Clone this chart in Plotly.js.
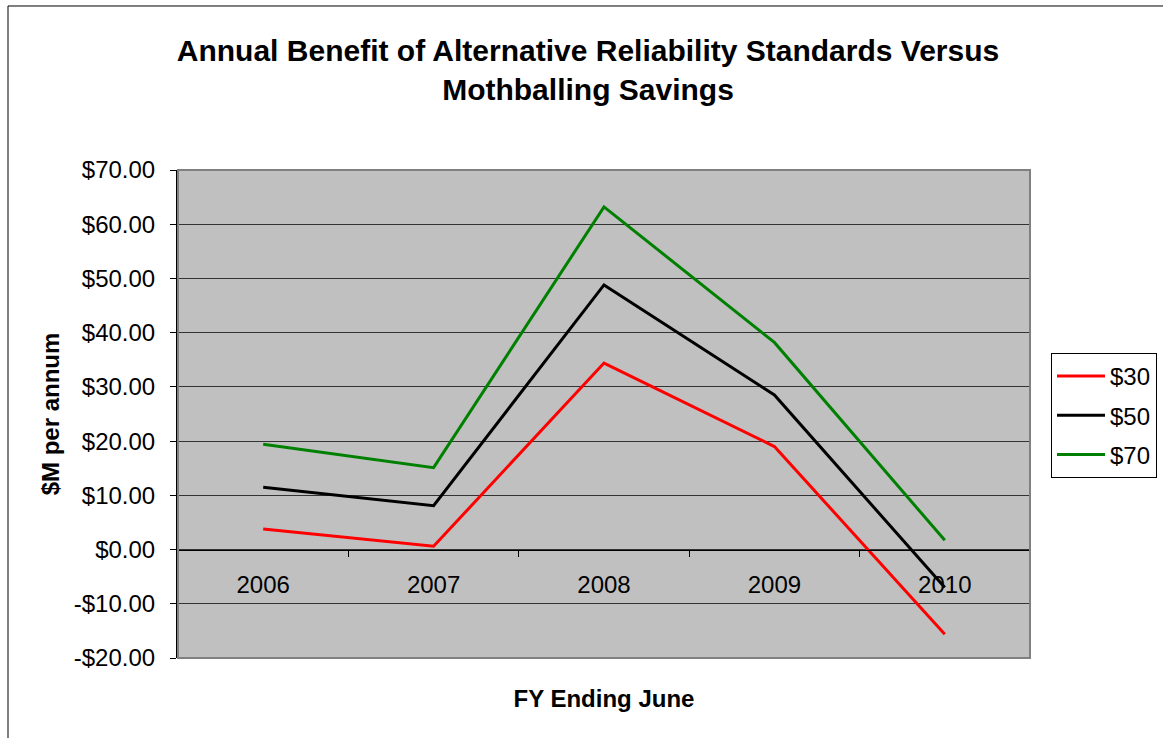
<!DOCTYPE html>
<html>
<head>
<meta charset="utf-8">
<script src="https://cdn.plot.ly/plotly-3.0.1.min.js"></script>
<style>html,body{margin:0;padding:0;background:#fff;}#chart{width:1163px;height:738px;}</style>
</head>
<body>
<div id="chart"></div>
<script>
var years = ['2006', '2007', '2008', '2009', '2010'];
var seriesNames = ['$30', '$50', '$70'];
var values30 = [3.8, 0.6, 34.4, 19.0, -15.6];
var values50 = [11.5, 8.1, 48.8, 28.5, -7.0];
var values70 = [19.4, 15.1, 63.2, 38.2, 1.7];
var yTickVals = [-20, -10, 0, 10, 20, 30, 40, 50, 60, 70];
var yTickText = ['-$20.00', '-$10.00', '$0.00', '$10.00', '$20.00', '$30.00', '$40.00', '$50.00', '$60.00', '$70.00'];
var colors = ['#FF0000', '#000000', '#008000'];
var allValues = [values30, values50, values70];

var FONT = 'Liberation Sans, Arial, sans-serif';
var traces = allValues.map(function (v, i) {
  return {
    x: years, y: v, type: 'scatter', mode: 'lines', name: seriesNames[i],
    legendgroup: 'g' + i,
    line: {color: colors[i], width: 3}
  };
});

var layout = {
  width: 1163, height: 738,
  paper_bgcolor: '#ffffff', plot_bgcolor: '#C0C0C0',
  margin: {l: 178, r: 133, t: 170, b: 80, pad: 0},
  font: {family: FONT, color: '#000', size: 24},
  title: {
    text: '<b>Annual Benefit of Alternative Reliability Standards Versus<br>Mothballing Savings</b>',
    font: {family: FONT, size: 30, color: '#000'},
    xref: 'container', x: 0.5056, xanchor: 'center',
    yref: 'container', y: 0.918, yanchor: 'top'
  },
  xaxis: {
    type: 'category', range: [-0.5, 4.5],
    anchor: 'free', position: 20 / 90,
    showline: true, linecolor: '#000', linewidth: 1,
    ticks: 'outside', tickson: 'boundaries', ticklen: 6, tickcolor: '#000',
    ticklabelstandoff: 14,
    tickfont: {family: FONT, size: 24, color: '#000'},
    showgrid: false, zeroline: false, automargin: false,
    title: {text: '<b>FY Ending June</b>', font: {family: FONT, size: 24, color: '#000'}, standoff: 92}
  },
  yaxis: {
    range: [-20, 70], tickmode: 'array', tickvals: yTickVals, ticktext: yTickText,
    showline: true, linecolor: '#000', linewidth: 2,
    ticks: 'outside', ticklen: 6, tickcolor: '#000',
    ticklabelstandoff: 10,
    tickfont: {family: FONT, size: 24, color: '#000'},
    showgrid: true, gridcolor: '#333333', gridwidth: 1,
    zeroline: false, automargin: false,
    title: {text: '<b>$M per annum</b>', font: {family: FONT, size: 24, color: '#000'}, standoff: 7}
  },
  legend: {
    xref: 'container', yref: 'container',
    x: 1051 / 1163, xanchor: 'left', y: 1 - 353 / 738, yanchor: 'top',
    bgcolor: '#ffffff', bordercolor: '#000', borderwidth: 1,
    font: {family: FONT, size: 24, color: '#000'},
    traceorder: 'grouped', tracegroupgap: 5, itemwidth: 48
  },
  showlegend: true,
  shapes: [
    {type: 'rect', xref: 'paper', yref: 'paper', x0: 0, x1: 1, y0: 0, y1: 1,
     line: {color: '#808080', width: 2}, layer: 'above'},
    {type: 'rect', xref: 'paper', yref: 'paper', x0: -0.19953, x1: 1.25, y0: -0.3, y1: 1.33607,
     line: {color: '#000', width: 1}, layer: 'above'}
  ]
};

Plotly.newPlot('chart', traces, layout, {displayModeBar: false, staticPlot: true});
</script>
</body>
</html>
